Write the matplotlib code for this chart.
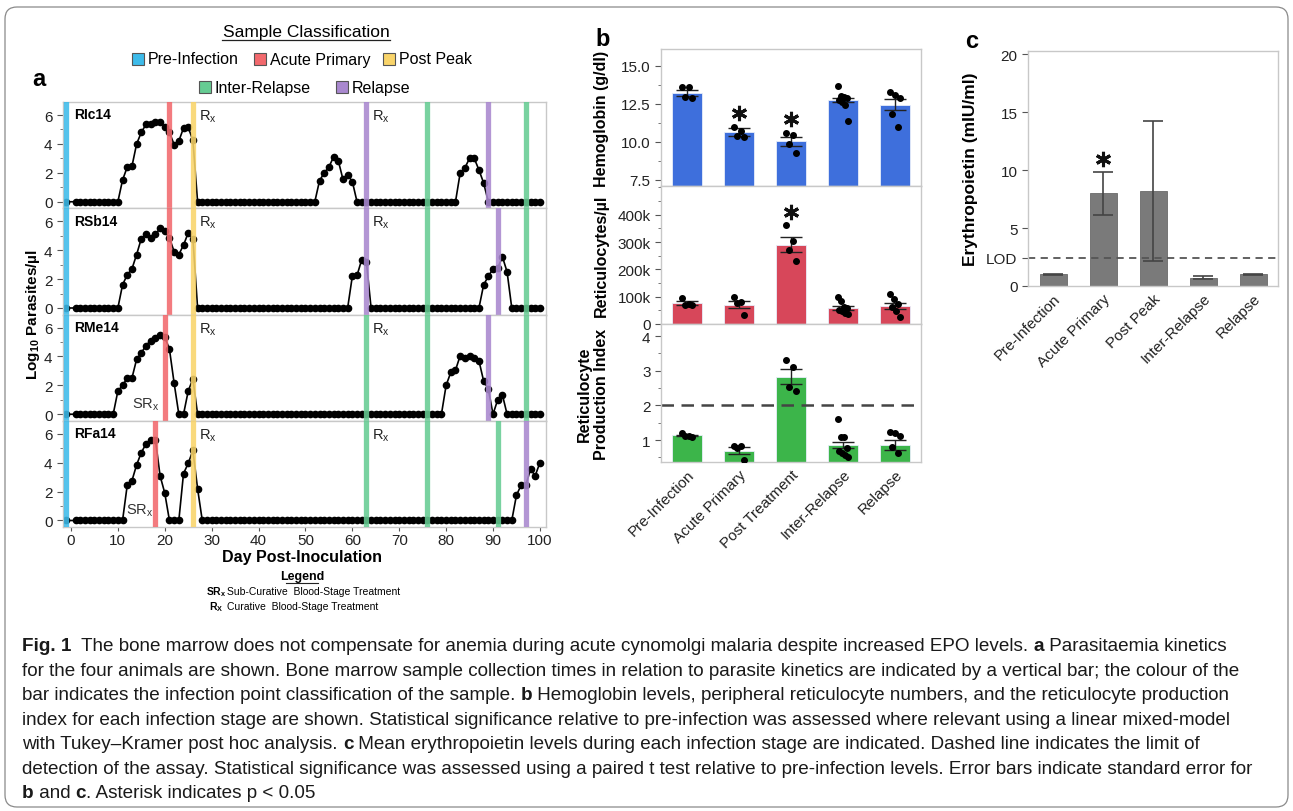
import numpy as np
import matplotlib.pyplot as plt
from matplotlib import font_manager
from matplotlib.patches import Rectangle, FancyBboxPatch
from matplotlib.lines import Line2D
from matplotlib.transforms import IdentityTransform
from matplotlib.ticker import MultipleLocator, FuncFormatter

plt.rcParams['font.family'] = ['Liberation Sans', 'DejaVu Sans']
plt.rcParams['mathtext.fontset'] = 'custom'
plt.rcParams['mathtext.rm'] = 'Liberation Sans'
plt.rcParams['mathtext.bf'] = 'Liberation Sans:bold'

W, H = 1293, 812

# ---------------- data: panel a (log10 parasites/ul) ----------------
days = [-1] + list(range(1, 101))

ric14 = [0,
         0, 0, 0, 0, 0, 0, 0, 0, 0, 0,
         1.5, 2.4, 2.45, 4.0, 4.8, 5.35, 5.35, 5.55, 5.5, 5.2,
         4.8, 3.95, 4.2, 5.1, 5.15, 4.25, 0, 0, 0, 0,
         0, 0, 0, 0, 0, 0, 0, 0, 0, 0,
         0, 0, 0, 0, 0, 0, 0, 0, 0, 0,
         0, 0, 1.45, 2.0, 2.4, 3.1, 2.85, 1.55, 1.85, 1.4,
         0, 0, 0, 0, 0, 0, 0, 0, 0, 0,
         0, 0, 0, 0, 0, 0, 0, 0, 0, 0,
         0, 0, 2.0, 2.35, 3.0, 3.0, 2.2, 1.3, 0, 0,
         0, 0, 0, 0, 0, 0, 0, 0, 0, 0]

rsb14 = [0,
         0, 0, 0, 0, 0, 0, 0, 0, 0, 0,
         1.6, 2.3, 2.7, 3.7, 4.8, 5.1, 4.85, 5.1, 5.5, 5.3,
         4.85, 3.9, 3.7, 4.35, 5.2, 4.8, 0, 0, 0, 0,
         0, 0, 0, 0, 0, 0, 0, 0, 0, 0,
         0, 0, 0, 0, 0, 0, 0, 0, 0, 0,
         0, 0, 0, 0, 0, 0, 0, 0, 0, 2.2,
         2.25, 3.35, 3.2, 0, 0, 0, 0, 0, 0, 0,
         0, 0, 0, 0, 0, 0, 0, 0, 0, 0,
         0, 0, 0, 0, 0, 0, 0, 1.6, 2.2, 2.7,
         2.75, 3.55, 2.5, 0, 0, 0, 0, 0, 0, 0]

rme14 = [0,
         0, 0, 0, 0, 0, 0, 0, 0, 0, 1.6,
         2.0, 2.5, 2.5, 3.8, 4.25, 4.75, 5.1, 5.25, 5.5, 5.35,
         4.5, 2.15, 0, 0, 1.6, 2.45, 0, 0, 0, 0,
         0, 0, 0, 0, 0, 0, 0, 0, 0, 0,
         0, 0, 0, 0, 0, 0, 0, 0, 0, 0,
         0, 0, 0, 0, 0, 0, 0, 0, 0, 0,
         0, 0, 0, 0, 0, 0, 0, 0, 0, 0,
         0, 0, 0, 0, 0, 0, 0, 0, 0, 2.0,
         2.9, 3.05, 4.05, 3.9, 4.05, 3.9, 3.7, 2.3, 1.75, 0,
         1.0, 1.35, 0, 0, 0, 0, 0, 0, 0, 0]

rfa14 = [0,
         0, 0, 0, 0, 0, 0, 0, 0, 0, 0,
         0, 2.45, 2.75, 3.85, 4.7, 5.3, 5.6, 5.6, 3.1, 1.9,
         0, 0, 0, 3.25, 3.95, 4.85, 2.2, 0, 0, 0,
         0, 0, 0, 0, 0, 0, 0, 0, 0, 0,
         0, 0, 0, 0, 0, 0, 0, 0, 0, 0,
         0, 0, 0, 0, 0, 0, 0, 0, 0, 0,
         0, 0, 0, 0, 0, 0, 0, 0, 0, 0,
         0, 0, 0, 0, 0, 0, 0, 0, 0, 0,
         0, 0, 0, 0, 0, 0, 0, 0, 0, 0,
         0, 0, 0, 0, 1.75, 2.45, 2.45, 3.55, 3.1, 4.0]

animals = ['RIc14', 'RSb14', 'RMe14', 'RFa14']
parasites = [ric14, rsb14, rme14, rfa14]

sample_days = [[-1, 21, 26, 63, 76, 89, 97],
               [-1, 21, 26, 63, 76, 91, 97],
               [-1, 20, 26, 63, 76, 89, 97],
               [-1, 18, 26, 63, 76, 91, 97]]
sample_class = [['Pre-Infection', 'Acute Primary', 'Post Peak', 'Relapse', 'Inter-Relapse', 'Relapse', 'Inter-Relapse'],
                ['Pre-Infection', 'Acute Primary', 'Post Peak', 'Relapse', 'Inter-Relapse', 'Relapse', 'Inter-Relapse'],
                ['Pre-Infection', 'Acute Primary', 'Post Peak', 'Inter-Relapse', 'Inter-Relapse', 'Relapse', 'Inter-Relapse'],
                ['Pre-Infection', 'Acute Primary', 'Post Peak', 'Inter-Relapse', 'Inter-Relapse', 'Inter-Relapse', 'Relapse']]
rx_days = [26, 63]
srx_day = [None, None, 16, 14.6]

classes = ['Pre-Infection', 'Acute Primary', 'Post Peak', 'Inter-Relapse', 'Relapse']
class_colors = {'Pre-Infection': '#3dbbea', 'Acute Primary': '#f2696d', 'Post Peak': '#f9d46a',
                'Inter-Relapse': '#66cc93', 'Relapse': '#a988cf'}

# ---------------- data: panel b ----------------
b_stages = ['Pre-Infection', 'Acute Primary', 'Post Treatment', 'Inter-Relapse', 'Relapse']

hb_mean = [13.2, 10.63, 10.04, 12.75, 12.44]
hb_sem = [0.22, 0.25, 0.28, 0.16, 0.35]
hb_points = [[13.6, 13.6, 12.95, 12.85],
             [11.0, 10.7, 10.4, 10.3],
             [10.6, 10.45, 9.85, 9.3],
             [13.7, 13.0, 12.95, 12.9, 12.75, 12.6, 12.45, 11.4],
             [13.25, 13.1, 12.85, 11.85, 11.0]]
hb_sig = [1, 2]

retic_mean = [77000, 71000, 290000, 59000, 67000]
retic_sem = [6500, 13000, 27000, 8000, 11500]
retic_points = [[95000, 75000, 70000, 68000],
                [97000, 82000, 78000, 33000],
                [361000, 302000, 269000, 232000],
                [98000, 85000, 62000, 57000, 50000, 46000, 42000, 38000],
                [109000, 92000, 73000, 62000, 47000, 27000]]
retic_sig = [2]

rpi_mean = [1.14, 0.69, 2.83, 0.86, 0.86]
rpi_sem = [0.02, 0.1, 0.22, 0.1, 0.14]
rpi_points = [[1.2, 1.13, 1.12, 1.1],
              [0.84, 0.82, 0.76, 0.42],
              [3.31, 3.12, 2.54, 2.41],
              [1.6, 1.1, 1.08, 0.78, 0.68, 0.62, 0.57, 0.52],
              [1.24, 1.2, 1.12, 0.81, 0.62]]
rpi_threshold = 2

# ---------------- data: panel c ----------------
c_stages = ['Pre-Infection', 'Acute Primary', 'Post Peak', 'Inter-Relapse', 'Relapse']
epo_mean = [1.0, 8.0, 8.24, 0.72, 1.0]
epo_sem = [0.02, 1.85, 6.04, 0.14, 0.02]
epo_sig = [1]
epo_lod = 2.46

caption = [
    [('Fig. 1', True), ('  The bone marrow does not compensate for anemia during acute cynomolgi malaria despite increased EPO levels. ', False),
     ('a', True), (' Parasitaemia kinetics', False)],
    [('for the four animals are shown. Bone marrow sample collection times in relation to parasite kinetics are indicated by a vertical bar; the colour of the', False)],
    [('bar indicates the infection point classification of the sample. ', False), ('b', True),
     (' Hemoglobin levels, peripheral reticulocyte numbers, and the reticulocyte production', False)],
    [('index for each infection stage are shown. Statistical significance relative to pre-infection was assessed where relevant using a linear mixed-model', False)],
    [('with Tukey\u2013Kramer post hoc analysis. ', False), ('c', True),
     (' Mean erythropoietin levels during each infection stage are indicated. Dashed line indicates the limit of', False)],
    [('detection of the assay. Statistical significance was assessed using a paired t test relative to pre-infection levels. Error bars indicate standard error for', False)],
    [('b', True), (' and ', False), ('c', True), ('. Asterisk indicates p < 0.05', False)],
]


def fx(px):
    return px / W


def fy(py):
    return 1 - py / H


def box(l, t, r, b):
    return [fx(l), fy(b), (r - l) / W, (b - t) / H]


def spread(n, w=0.1):
    offs = np.linspace(-w, w, n)
    order = list(range(0, n, 2)) + list(range(1, n, 2))
    return offs[order]


def style_axes(ax):
    for s in ax.spines.values():
        s.set_color('#c8c8c8')
        s.set_linewidth(1.0)
    ax.tick_params(colors='#555555', labelcolor='#222222', labelsize=10.5, length=4, width=0.8)
    ax.tick_params(which='minor', length=2.5, width=0.7, colors='#777777')


def star(ax, x, y):
    ax.plot(x, y, marker=(6, 2, 0), ms=11, mew=2.2, color='#111111', zorder=5)


fig = plt.figure(figsize=(W / 100, H / 100), dpi=100)

# outer frame
fig.patches.append(FancyBboxPatch((5, 4), 1283, 800, boxstyle='round,pad=0,rounding_size=12',
                                  transform=IdentityTransform(), facecolor='none',
                                  edgecolor='#8a8a8a', linewidth=0.9))

# ---------------- panel a ----------------
fig.text(fx(39), fy(80), 'a', fontsize=17, fontweight='bold', va='center', ha='center')
fig.text(fx(306), fy(32), 'Sample Classification', fontsize=12.5, ha='center', va='center')
fig.add_artist(Line2D([fx(222), fx(390)], [fy(41), fy(41)], color='#222222', lw=0.9))

leg_items = [(138, 60, 'Pre-Infection'), (260, 60, 'Acute Primary'), (389, 60, 'Post Peak'),
             (205, 88, 'Inter-Relapse'), (342, 88, 'Relapse')]
for x0, y0, name in leg_items:
    fig.add_artist(Rectangle((fx(x0 - 6), fy(y0 + 6)), 12 / W, 12 / H, facecolor=class_colors[name],
                             edgecolor='#555555', linewidth=0.8))
    fig.text(fx(x0 + 10), fy(y0), name, fontsize=11.5, va='center', ha='left')

top, bot = 103, 528
ph = (bot - top) / 4
for i, (name, vals) in enumerate(zip(animals, parasites)):
    ax = fig.add_axes(box(63, top + i * ph, 546, top + (i + 1) * ph))
    ax.plot(days, vals, color='black', lw=1.2, marker='o', ms=4.5, zorder=2)
    for d, c in zip(sample_days[i], sample_class[i]):
        ax.axvline(d, color=class_colors[c], lw=3.8, alpha=0.88, zorder=3)
    for d in rx_days:
        ax.text(d + 1.3, 5.95, r'R$_\mathregular{x}$', fontsize=10.5, va='center', ha='left', color='#222222')
    if srx_day[i] is not None:
        ax.text(srx_day[i], 0.75, r'SR$_\mathregular{x}$', fontsize=10.5, va='center', ha='center', color='#333333')
    ax.text(0.6, 6.05, name, fontsize=10, fontweight='bold', va='center', ha='left')
    ax.set_xlim(-1.7, 101.3)
    ax.set_ylim(-0.45, 6.9)
    ax.set_yticks([0, 2, 4, 6])
    ax.yaxis.set_minor_locator(MultipleLocator(1))
    ax.set_xticks(range(0, 101, 10))
    style_axes(ax)
    ax.tick_params(axis='y', labelsize=11)
    if i < 3:
        ax.tick_params(axis='x', bottom=False, labelbottom=False)
    else:
        ax.tick_params(axis='x', labelsize=11, pad=1.5, length=3)

fig.text(fx(302), fy(558), 'Day Post-Inoculation', fontsize=11.5, fontweight='bold', ha='center', va='center')
fig.text(fx(33), fy(315), r'Log$_{\mathbf{10}}$ Parasites/' + '\u00b5l', rotation=90, fontsize=11,
         fontweight='bold', ha='center', va='center')

fig.text(fx(302), fy(577), 'Legend', fontsize=9, fontweight='bold', ha='center', va='center')
fig.add_artist(Line2D([fx(286), fx(318)], [fy(584), fy(584)], color='#222222', lw=0.8))
fig.text(fx(206), fy(592), r'$\mathbf{SR_x}$', fontsize=7.5, ha='left', va='center')
fig.text(fx(227), fy(592), 'Sub-Curative  Blood-Stage Treatment', fontsize=7.5, ha='left', va='center')
fig.text(fx(209), fy(607), r'$\mathbf{R_X}$', fontsize=7.5, ha='left', va='center')
fig.text(fx(227), fy(607), 'Curative  Blood-Stage Treatment', fontsize=7.5, ha='left', va='center')

# ---------------- panel b ----------------
fig.text(fx(603), fy(40), 'b', fontsize=17, fontweight='bold', va='center', ha='center')
xb = np.arange(len(b_stages))
b_panels = [
    (50, 187, hb_mean, hb_sem, hb_points, hb_sig, '#3e6fdc', (7.1, 16.1), 'Hemoglobin (g/dl)'),
    (187, 325, retic_mean, retic_sem, retic_points, retic_sig, '#d7475a', (0, 505000), 'Reticulocytes/\u00b5l'),
    (325, 463, rpi_mean, rpi_sem, rpi_points, [], '#3cb54a', (0.37, 4.35), 'Reticulocyte\nProduction Index'),
]
for j, (t0, b0, mean, sem, pts, sig, col, ylim, lab) in enumerate(b_panels):
    ax = fig.add_axes(box(661, t0, 921, b0))
    lo = ylim[0]
    ax.bar(xb, np.array(mean) - lo, bottom=lo, width=0.56, color=col, edgecolor='#e8eefa', linewidth=0.6, zorder=1)
    ax.errorbar(xb, mean, yerr=sem, fmt='none', ecolor='#222222', elinewidth=1.0, capsize=8, capthick=1.0, zorder=3)
    for k, p in enumerate(pts):
        ax.plot(k + spread(len(p)), p, 'o', color='black', ms=4, zorder=4)
    span = ylim[1] - ylim[0]
    for k in sig:
        top_pt = max(max(pts[k]), mean[k] + sem[k])
        star(ax, k, top_pt + span * 0.1)
    ax.set_xlim(-0.5, 4.5)
    ax.set_ylim(*ylim)
    style_axes(ax)
    ax.tick_params(axis='y', labelsize=11)
    ax.set_xticks(xb)
    if j == 0:
        ax.set_yticks([7.5, 10, 12.5, 15])
        ax.yaxis.set_minor_locator(MultipleLocator(1.25))
        ax.yaxis.set_major_formatter(FuncFormatter(lambda v, p: '%.1f' % v))
        ax.set_ylabel(lab, fontsize=11.5, fontweight='bold')
    elif j == 1:
        ax.set_yticks([0, 100000, 200000, 300000, 400000])
        ax.yaxis.set_minor_locator(MultipleLocator(50000))
        ax.yaxis.set_major_formatter(FuncFormatter(lambda v, p: '0' if v == 0 else '%dk' % (v / 1000)))
        ax.set_ylabel(lab, fontsize=11.5, fontweight='bold')
    else:
        ax.set_yticks([1, 2, 3, 4])
        ax.yaxis.set_minor_locator(MultipleLocator(0.5))
        ax.axhline(rpi_threshold, color='#444444', lw=1.8, ls=(0, (5, 3)), zorder=2)
        ax.set_ylabel(lab, fontsize=11.5, fontweight='bold', linespacing=1.15)
    if j < 2:
        ax.tick_params(axis='x', bottom=False, labelbottom=False)
    else:
        ax.tick_params(axis='x', length=0)
        ax.set_xticklabels(b_stages, rotation=45, ha='right', rotation_mode='anchor', fontsize=11)
    ax.yaxis.set_label_coords(-0.2, 0.5)

# ---------------- panel c ----------------
fig.text(fx(972), fy(42), 'c', fontsize=17, fontweight='bold', va='center', ha='center')
axc = fig.add_axes(box(1028, 52, 1278, 287))
xc = np.arange(len(c_stages))
axc.bar(xc, epo_mean, width=0.54, color='#7a7a7a', edgecolor='#6a6a6a', linewidth=0.6, zorder=1)
axc.errorbar(xc, epo_mean, yerr=epo_sem, fmt='none', ecolor='#444444', elinewidth=1.2, capsize=7, capthick=1.2, zorder=3)
axc.axhline(epo_lod, color='#555555', lw=1.3, ls=(0, (4, 3)), zorder=2)
for k in epo_sig:
    star(axc, k, epo_mean[k] + epo_sem[k] + 1.1)
axc.set_xlim(-0.5, 4.5)
axc.set_ylim(0, 20.3)
axc.set_yticks([0, epo_lod, 5, 10, 15, 20])
axc.set_yticklabels(['0', 'LOD', '5', '10', '15', '20'])
style_axes(axc)
axc.tick_params(axis='y', labelsize=11)
axc.set_xticks(xc)
axc.tick_params(axis='x', length=0)
axc.set_xticklabels(c_stages, rotation=45, ha='right', rotation_mode='anchor', fontsize=11)
axc.set_ylabel('Erythropoietin (mIU/ml)', fontsize=12.5, fontweight='bold')
axc.yaxis.set_label_coords(-0.2, 0.5)

# ---------------- caption ----------------
names = {f.name for f in font_manager.fontManager.ttflist}
cap_font = 'Liberation Sans Narrow' if 'Liberation Sans Narrow' in names else 'Liberation Sans'
renderer = fig.canvas.get_renderer()


def line_width(parts, size):
    w = 0
    for s, bold in parts:
        tt = fig.text(0, 0, s, fontsize=size, fontweight='bold' if bold else 'normal', family=[cap_font, 'DejaVu Sans'])
        w += tt.get_window_extent(renderer=renderer).width
        tt.remove()
    return w


widest = max(line_width(p, 10) for p in caption[:-1])
cap_size = 10 * 1245 / widest
for li, parts in enumerate(caption):
    x = 22
    y = 647 + li * 24.5
    for s, bold in parts:
        tt = fig.text(fx(x), fy(y), s, fontsize=cap_size, fontweight='bold' if bold else 'normal',
                      family=[cap_font, 'DejaVu Sans'], va='center', ha='left', color='#1a1a1a')
        x += tt.get_window_extent(renderer=renderer).width

fig.savefig('out.png', dpi=100)
